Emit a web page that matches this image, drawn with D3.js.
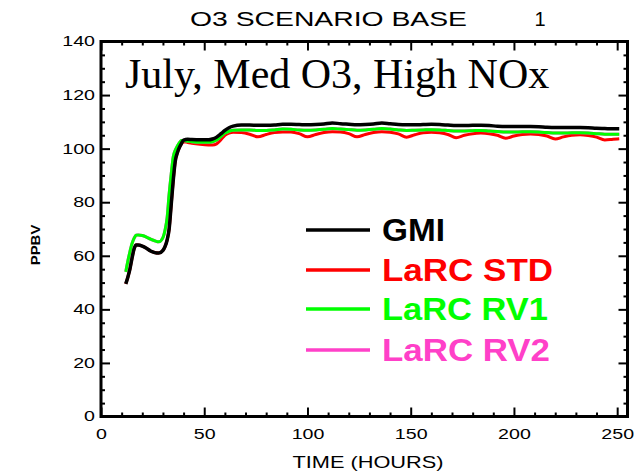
<!DOCTYPE html>
<html>
<head>
<meta charset="utf-8">
<script src="https://cdn.jsdelivr.net/npm/d3@7"></script>
<style>
  html, body { margin: 0; padding: 0; background: #fff; }
  svg { display: block; }
  text { font-family: "Liberation Sans", Arial, sans-serif; }
</style>
</head>
<body>
<svg id="chart" width="634" height="474"></svg>
<script>
// Model hours (irregular early, every 4 h afterwards)
const hours = [12, 13, 14, 15, 16, 17, 18, 20, 22, 24, 26, 28, 30, 31, 32, 33, 34, 35, 36, 37, 38, 39, 40, 42, 44, 48, 52, 54, 56, 58, 60, 62, 64,
  68, 72, 76, 80, 84, 88, 92, 96, 100, 104, 108, 112, 116, 120, 124, 128, 132, 136, 140, 144, 148, 152, 156, 160, 164, 168,
  172, 176, 180, 184, 188, 192, 196, 200, 204, 208, 212, 216, 220, 224, 228, 232, 236, 240, 244, 248, 251];

// O3 (ppbv) per model run
const gmi = [49.5, 52, 55, 59, 62.5, 64, 64, 63.6, 62.8, 61.8, 61.2, 61, 62, 63.4, 65.8, 70, 79, 88.3, 95.5, 98.5, 100.5, 102, 103.2, 103.5, 103.4, 103.3, 103.3, 103.6, 104.3, 105.5, 106.8, 107.8, 108.4,
  108.8, 108.8, 108.7, 108.7, 108.8, 109.1, 109.1, 109.0, 108.9, 109.0, 109.2, 109.6, 109.3, 109.1, 108.9, 109.0, 109.2, 109.6, 109.3, 109.0, 108.9, 108.9, 109.0, 109.1, 109.0, 108.8,
  108.6, 108.6, 108.7, 108.7, 108.6, 108.4, 108.3, 108.3, 108.3, 108.3, 108.2, 108.0, 107.9, 107.9, 107.9, 107.9, 107.8, 107.6, 107.5, 107.4, 107.4];

const larcSTD = [49.5, 52, 55, 59, 62.5, 64, 64, 63.6, 62.8, 61.8, 61.2, 61, 62, 63.4, 65.8, 70, 79, 88.3, 95.5, 98.5, 100.5, 101.8, 102.6, 102.3, 102, 101.6, 101.4, 101.4, 101.8, 103.2, 105, 105.8, 106.1,
  106.0, 105.4, 104.4, 105.3, 106.0, 106.2, 106.2, 105.6, 104.4, 105.3, 106.0, 106.3, 106.2, 105.6, 104.4, 105.3, 106.0, 106.3, 106.1, 105.5, 104.3, 105.2, 105.9, 106.1, 105.9, 105.3,
  104.1, 105.0, 105.6, 105.8, 105.6, 105.0, 103.9, 104.7, 105.3, 105.5, 105.3, 104.7, 103.6, 104.4, 105.0, 105.2, 104.9, 104.3, 103.2, 103.5, 103.7];

const larcRV1 = [54, 58, 61.5, 64.5, 66.5, 67.7, 67.8, 67.6, 67, 66.2, 65.6, 65.2, 66.8, 69.5, 74, 83, 90.5, 97, 99.5, 101, 102.2, 103, 103, 102.8, 102.6, 102.4, 102.4, 102.6, 103.2, 104.5, 105.8, 106.5, 106.9,
  107.0, 107.0, 106.8, 106.8, 107.0, 107.3, 107.2, 107.0, 106.9, 107.0, 107.2, 107.5, 107.3, 107.1, 106.9, 107.0, 107.2, 107.5, 107.3, 107.0, 106.8, 106.9, 107.0, 107.1, 107.0, 106.8,
  106.6, 106.6, 106.7, 106.8, 106.6, 106.4, 106.2, 106.2, 106.3, 106.3, 106.2, 106.0, 105.8, 105.8, 105.9, 105.9, 105.8, 105.6, 105.4, 105.4, 105.4];

// RV2 coincides with RV1 throughout this run
const larcRV2 = larcRV1.slice();

const seriesNames = ["GMI", "LaRC STD", "LaRC RV1", "LaRC RV2"];
const seriesColors = ["#000000", "#ff0000", "#00ff00", "#ff40c8"];
const xTicks = [0, 50, 100, 150, 200, 250];
const yTicks = [0, 20, 40, 60, 80, 100, 120, 140];

const svg = d3.select("#chart");
svg.append("rect").attr("width", 634).attr("height", 474).attr("fill", "#fff");

const L = 101, R = 627.5, T = 41.5, B = 416.5;
const x = d3.scaleLinear().domain([0, 255]).range([L, R]);
const y = d3.scaleLinear().domain([0, 140]).range([B, T]);

// Widen text glyphs horizontally, like the plotting package's stroke font
function stretch(sel, k) {
  sel.each(function () {
    const w = this.getComputedTextLength();
    this.setAttribute("textLength", w * k);
    this.setAttribute("lengthAdjust", "spacingAndGlyphs");
  });
}

// Series (RV2 underneath RV1, GMI on top)
const line = d3.line().x((d, i) => x(hours[i])).y(d => y(d)).curve(d3.curveMonotoneX);
const drawOrder = [[larcSTD, 1, 3], [larcRV2, 3, 3], [larcRV1, 2, 3], [gmi, 0, 3.5]];
drawOrder.forEach(([vals, ci, w]) => {
  svg.append("path").datum(vals)
    .attr("fill", "none")
    .attr("stroke", seriesColors[ci])
    .attr("stroke-width", w)
    .attr("stroke-linejoin", "round")
    .attr("d", line);
});

// Axes: inward ticks on all four sides
const minorX = d3.range(0, 256, 10).filter(v => v % 50 !== 0);
const minorY = d3.range(0, 141, 5).filter(v => v % 20 !== 0);

function styleAxis(g) {
  g.select(".domain").remove();
  g.selectAll(".tick line").attr("stroke", "#000").attr("stroke-width", 2);
}

const gB = svg.append("g").attr("transform", `translate(0,${B})`)
  .call(d3.axisBottom(x).tickValues(xTicks).tickSize(-9).tickPadding(13).tickFormat(d3.format("d")));
styleAxis(gB);
gB.selectAll("text").attr("font-size", 14).attr("fill", "#000").call(stretch, 1.4);
svg.append("g").attr("transform", `translate(0,${B})`)
  .call(d3.axisBottom(x).tickValues(minorX).tickSize(-4).tickFormat(""))
  .call(styleAxis);

const gT = svg.append("g").attr("transform", `translate(0,${T})`)
  .call(d3.axisTop(x).tickValues(xTicks).tickSize(-9).tickFormat(""));
styleAxis(gT);
svg.append("g").attr("transform", `translate(0,${T})`)
  .call(d3.axisTop(x).tickValues(minorX).tickSize(-4).tickFormat(""))
  .call(styleAxis);

const gL = svg.append("g").attr("transform", `translate(${L},0)`)
  .call(d3.axisLeft(y).tickValues(yTicks).tickSize(-9).tickPadding(6).tickFormat(d3.format("d")));
styleAxis(gL);
gL.selectAll("text").attr("font-size", 14).attr("fill", "#000").call(stretch, 1.4);
svg.append("g").attr("transform", `translate(${L},0)`)
  .call(d3.axisLeft(y).tickValues(minorY).tickSize(-4).tickFormat(""))
  .call(styleAxis);

const gR = svg.append("g").attr("transform", `translate(${R},0)`)
  .call(d3.axisRight(y).tickValues(yTicks).tickSize(-9).tickFormat(""));
styleAxis(gR);
svg.append("g").attr("transform", `translate(${R},0)`)
  .call(d3.axisRight(y).tickValues(minorY).tickSize(-4).tickFormat(""))
  .call(styleAxis);

// Frame
svg.append("rect")
  .attr("x", L).attr("y", T).attr("width", R - L).attr("height", B - T)
  .attr("fill", "none").attr("stroke", "#000").attr("stroke-width", 3);

// Titles
svg.append("text").attr("x", 190).attr("y", 26).attr("font-size", 20)
  .text("O3 SCENARIO BASE").attr("textLength", 277).attr("lengthAdjust", "spacingAndGlyphs");
svg.append("text").attr("x", 540).attr("y", 26).attr("font-size", 20).attr("text-anchor", "middle").text("1");

svg.append("text").attr("x", 368).attr("y", 468).attr("font-size", 17).attr("text-anchor", "middle")
  .text("TIME (HOURS)").call(stretch, 1.28);

svg.append("text").attr("transform", "translate(40,245) rotate(-90)")
  .attr("font-size", 13).attr("font-weight", "bold").attr("text-anchor", "middle")
  .text("PPBV").call(stretch, 1.15);

svg.append("text").attr("x", 125).attr("y", 88)
  .style("font-family", "'Liberation Serif', 'Times New Roman', serif")
  .attr("font-size", 42).text("July, Med O3, High NOx");

// Legend
const legendY = [230, 270, 309, 350];
const legendW = [63, 171, 166, 168];
seriesNames.forEach((name, i) => {
  svg.append("line")
    .attr("x1", 306).attr("x2", 370).attr("y1", legendY[i]).attr("y2", legendY[i])
    .attr("stroke", seriesColors[i]).attr("stroke-width", 3.5);
  svg.append("text")
    .attr("x", 382).attr("y", legendY[i] + 11)
    .attr("font-size", 32).attr("font-weight", "bold")
    .attr("fill", seriesColors[i])
    .attr("textLength", legendW[i]).attr("lengthAdjust", "spacingAndGlyphs")
    .text(name);
});
</script>
</body>
</html>
